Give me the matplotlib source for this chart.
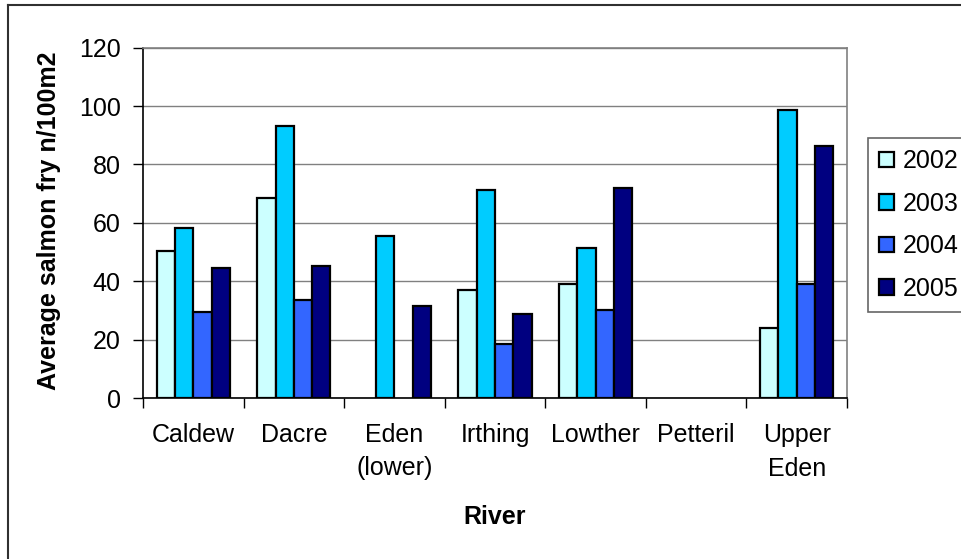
import numpy as np
import matplotlib
matplotlib.use("Agg")
import matplotlib.pyplot as plt
from matplotlib.lines import Line2D

plt.rcParams['font.family'] = ['Liberation Sans', 'DejaVu Sans']

rivers = ["Caldew", "Dacre", "Eden\n(lower)", "Irthing", "Lowther", "Petteril", "Upper\nEden"]
years = ["2002", "2003", "2004", "2005"]
nan = np.nan
fry_2002 = [50.2, 68.6, nan, 37.0, 39.1, nan, 24.1]
fry_2003 = [58.3, 93.1, 55.5, 71.3, 51.4, nan, 98.7]
fry_2004 = [29.5, 33.6, nan, 18.5, 30.3, nan, 39.1]
fry_2005 = [44.6, 45.3, 31.5, 28.9, 72.1, nan, 86.4]
series = [fry_2002, fry_2003, fry_2004, fry_2005]
colors = ["#CCFFFF", "#00CCFF", "#3366FF", "#000080"]

W, H = 961, 559
fig = plt.figure(figsize=(W / 100, H / 100), dpi=100)
ax = fig.add_axes([143 / W, 1 - 398 / H, (847 - 143) / W, (398 - 47.7) / H])

x = np.arange(len(rivers))
bw = 1 / 5.5
for i, (vals, c) in enumerate(zip(series, colors)):
    ax.bar(x + (i - 1.5) * bw, vals, bw, color=c, edgecolor="black",
           linewidth=1.6, label=years[i], zorder=3)

ax.set_xlim(-0.5, len(rivers) - 0.5)
ax.set_ylim(0, 120)
ax.set_yticks(np.arange(0, 121, 20))
ax.yaxis.grid(True, color="#808080", linewidth=1, zorder=0)
ax.set_xticks(x)
ax.set_xticklabels(rivers, fontsize=18, linespacing=1.5)
ax.set_xticks(np.arange(-0.5, len(rivers), 1), minor=True)
ax.tick_params(axis="x", which="major", length=0, pad=18)
ax.tick_params(axis="x", which="minor", length=7, width=1, color="black")
ax.tick_params(axis="y", length=7, width=1, labelsize=18, pad=9)

for s in ["top", "right"]:
    ax.spines[s].set_color("#808080")
    ax.spines[s].set_linewidth(1.2)
for s in ["left", "bottom"]:
    ax.spines[s].set_color("black")
    ax.spines[s].set_linewidth(1.2)

fig.text(49 / W, 1 - 221 / H, "Average salmon fry n/100m2", rotation=90,
         fontsize=18, fontweight="bold", ha="center", va="center")
fig.text(495 / W, 1 - 517 / H, "River", fontsize=18, fontweight="bold",
         ha="center", va="center")

leg = fig.legend(loc="upper left", bbox_to_anchor=(868 / W, 1 - 138 / H),
                 fontsize=18, frameon=True, fancybox=False, handlelength=0.6,
                 handleheight=0.6, handletextpad=0.35, labelspacing=0.74,
                 borderpad=0.45, borderaxespad=0)
leg.get_frame().set_edgecolor("#404040")
leg.get_frame().set_linewidth(1.2)

# outer chart border
fig.add_artist(Line2D([8 / W, 8 / W], [0, 1 - 5 / H], color="#303030", linewidth=1.5))
fig.add_artist(Line2D([8 / W, 1], [1 - 5 / H, 1 - 5 / H], color="#303030", linewidth=1.5))

fig.savefig("out.png", dpi=100)
